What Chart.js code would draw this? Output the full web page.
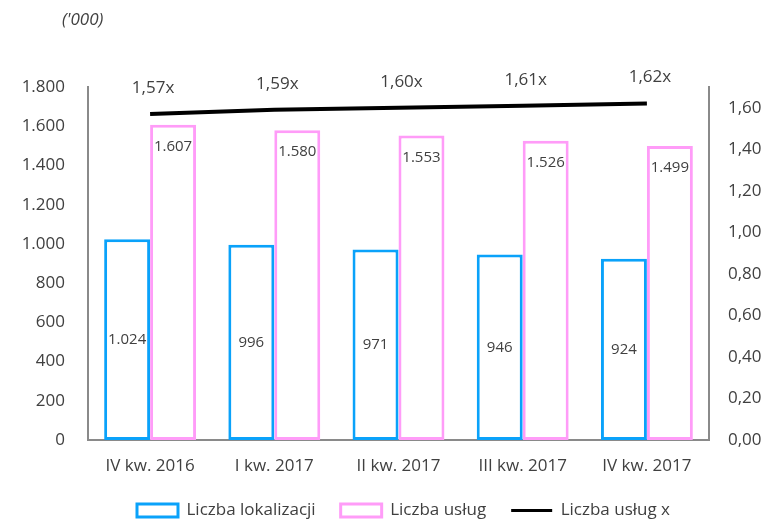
<!DOCTYPE html>
<html>
<head>
<meta charset="utf-8">
<script src="https://cdn.jsdelivr.net/npm/chart.js@4"></script>
<style>
  html, body { margin: 0; padding: 0; background: #fff; }
  #wrap { width: 767px; height: 520px; }
</style>
</head>
<body>
<div id="wrap"><canvas id="chart" width="767" height="520"></canvas></div>
<script>
// =====================
// Data
// =====================
const quarters = ["IV kw. 2016", "I kw. 2017", "II kw. 2017", "III kw. 2017", "IV kw. 2017"];
const locations = [1024, 996, 971, 946, 924];     // Liczba lokalizacji ('000)
const services = [1607, 1580, 1553, 1526, 1499];  // Liczba usług ('000)
const ratio = [1.57, 1.59, 1.60, 1.61, 1.62];     // Liczba usług x
const leftMax = 1800, leftStep = 200;
const rightMax = 1.7, rightStep = 0.2, rightLastTick = 1.6;

const BLUE = "#0aa2fa";
const PINK = "#ff9cf8";
const TEXT = "#404040";
const AXIS = "#8a8a8a";

// 1800 -> "1.800", 1.6 -> "1,60"
function fmtInt(v) {
  return String(Math.round(v)).replace(/\B(?=(\d{3})+(?!\d))/g, ".");
}
function fmtDec(v) {
  return v.toFixed(2).replace(".", ",");
}

Chart.defaults.font.family = "'Open Sans', 'Noto Sans', sans-serif";
Chart.defaults.color = TEXT;

// =====================
// Value labels + unit caption
// =====================
const valueLabels = {
  id: "valueLabels",
  afterLayout(chart) {
    // nudge legend to sit under the plot like the original
    const lg = chart.legend;
    lg.left += 20; lg.right += 20;
    lg.top += 9; lg.bottom += 9;
    // let category labels run below the axis box without being clipped
    chart.scales.x.bottom += 25;
  },
  afterDatasetsDraw(chart) {
    const ctx = chart.ctx;
    ctx.save();
    ctx.fillStyle = TEXT;
    ctx.textAlign = "center";
    ctx.textBaseline = "middle";
    ctx.font = "15px 'Open Sans', 'Noto Sans', sans-serif";

    chart.getDatasetMeta(0).data.forEach((el, i) => {
      ctx.fillText(fmtInt(locations[i]), el.x, (el.y + el.base) / 2);
    });
    chart.getDatasetMeta(1).data.forEach((el, i) => {
      ctx.fillText(fmtInt(services[i]), el.x, el.y + 22);
    });
    ctx.font = "17px 'Open Sans', 'Noto Sans', sans-serif";
    chart.getDatasetMeta(2).data.forEach((el, i) => {
      ctx.fillText(fmtDec(ratio[i]) + "x", el.x + 3, el.y - 26);
    });

    ctx.font = "italic 17px 'Open Sans', 'Noto Sans', sans-serif";
    ctx.textAlign = "left";
    ctx.fillText("('000)", 62, 20);
    ctx.restore();
  }
};

// =====================
// Chart
// =====================
new Chart(document.getElementById("chart"), {
  type: "bar",
  data: {
    labels: quarters,
    datasets: [
      {
        label: "Liczba lokalizacji",
        data: locations,
        backgroundColor: "#ffffff",
        borderColor: BLUE,
        borderWidth: 3,
        borderSkipped: false,
        pointStyle: "rect",
        yAxisID: "y",
        order: 2
      },
      {
        label: "Liczba usług",
        data: services,
        backgroundColor: "#ffffff",
        borderColor: PINK,
        borderWidth: 3,
        borderSkipped: false,
        pointStyle: "rect",
        yAxisID: "y",
        order: 2
      },
      {
        type: "line",
        label: "Liczba usług x",
        data: ratio,
        borderColor: "#000000",
        borderWidth: 4,
        pointRadius: 0,
        pointHoverRadius: 0,
        pointStyle: "line",
        pointBorderColor: "#000000",
        pointBorderWidth: 3,
        fill: false,
        tension: 0,
        yAxisID: "y1",
        order: 1
      }
    ]
  },
  options: {
    responsive: false,
    animation: false,
    devicePixelRatio: 1,
    layout: { padding: { top: 87, left: 0, right: 0, bottom: 0 } },
    datasets: {
      bar: { categoryPercentage: 0.74, barPercentage: 1.0 }
    },
    plugins: {
      tooltip: { enabled: false },
      legend: {
        position: "bottom",
        labels: {
          usePointStyle: true,
          pointStyleWidth: 41,
          boxHeight: 13,
          padding: 25,
          color: TEXT,
          font: { size: 17 },
          sort: (a, b) => a.datasetIndex - b.datasetIndex
        }
      }
    },
    scales: {
      x: {
        z: 1,
        grid: { display: false, drawTicks: false },
        border: { display: true, color: AXIS, width: 2 },
        ticks: { padding: 16, font: { size: 17 }, color: TEXT },
        afterFit: s => { s.height = 520 - 440 - s.chart.legend.height; }
      },
      y: {
        position: "left",
        min: 0,
        max: leftMax,
        grid: { display: false, drawTicks: false },
        border: { display: true, color: AXIS, width: 2 },
        ticks: { stepSize: leftStep, padding: 23, font: { size: 17 }, color: TEXT, callback: v => fmtInt(v) },
        afterFit: s => { s.width = 88; }
      },
      y1: {
        position: "right",
        min: 0,
        max: rightMax,
        grid: { display: false, drawTicks: false },
        border: { display: true, color: AXIS, width: 2 },
        ticks: {
          padding: 19,
          font: { size: 17 },
          color: TEXT,
          callback: v => fmtDec(v)
        },
        afterBuildTicks: s => {
          const t = [];
          for (let k = 0; k * rightStep <= rightLastTick + 1e-9; k++) t.push({ value: +(k * rightStep).toFixed(2) });
          s.ticks = t;
        },
        afterFit: s => { s.width = 58; }
      }
    }
  },
  plugins: [valueLabels]
});
</script>
</body>
</html>
